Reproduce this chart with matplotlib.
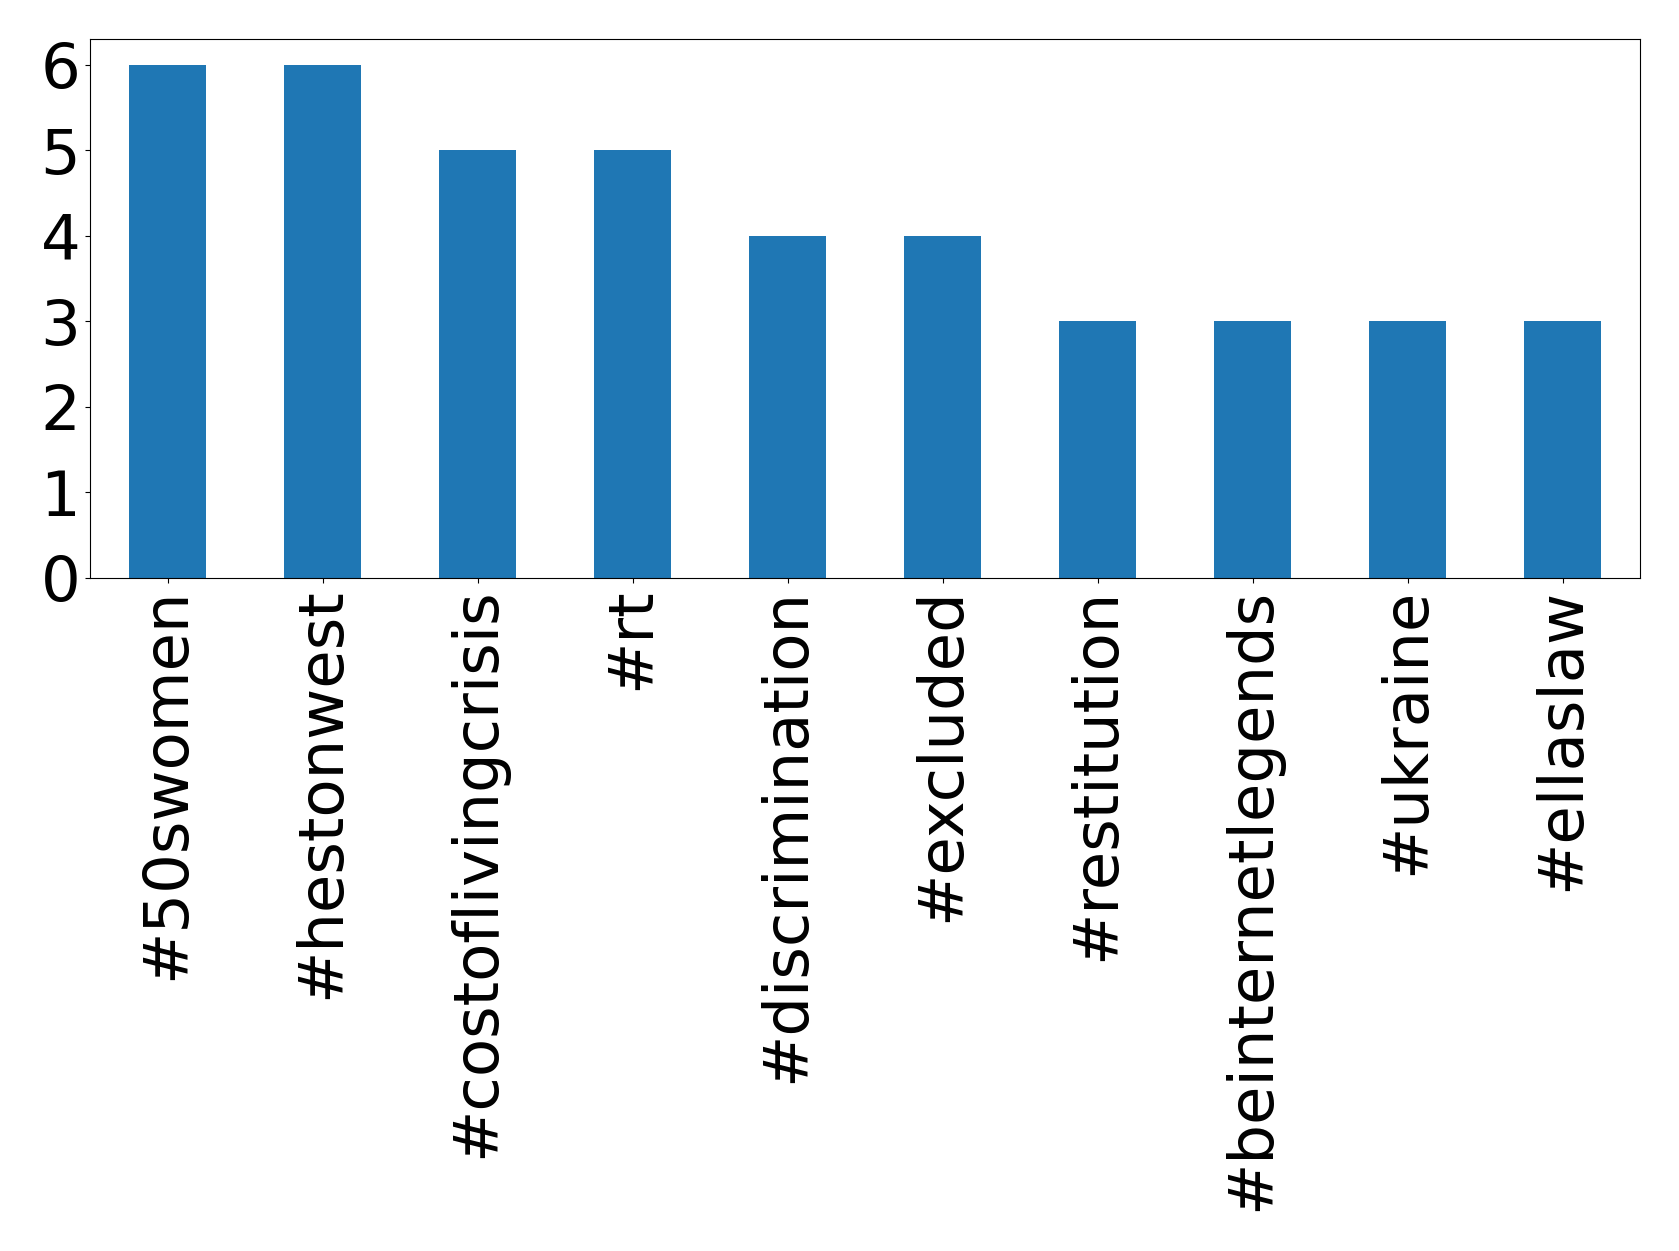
import matplotlib
matplotlib.use("Agg")
import matplotlib.pyplot as plt

categories = ["#50swomen", "#hestonwest", "#costoflivingcrisis", "#rt",
              "#discrimination", "#excluded", "#restitution",
              "#beinternetlegends", "#ukraine", "#ellaslaw"]
counts = [6, 6, 5, 5, 4, 4, 3, 3, 3, 3]

fig = plt.figure(figsize=(16.79, 12.51), dpi=100)
ax = fig.add_axes([90/1679, 1 - 578/1251, (1640 - 90)/1679, (578 - 39)/1251])
x = list(range(len(categories)))
ax.bar(x, counts, width=0.5, color="#1f77b4")
ax.set_xticks(x)
ax.set_xticklabels(categories, rotation=90, fontsize=45)
ax.set_xlim(-0.5, len(categories) - 0.5)
ax.set_ylim(0, 6.3)
ax.set_yticks(range(0, 7))
ax.tick_params(axis="y", labelsize=45)
fig.savefig("out.png", dpi=100)
